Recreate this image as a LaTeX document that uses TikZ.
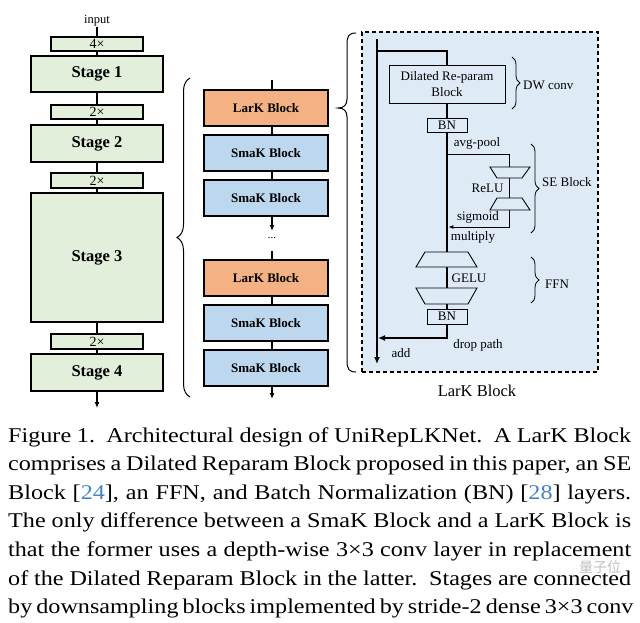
\documentclass[tikz,border=0pt]{standalone}
\usepackage{fontspec}
\setmainfont{Liberation Serif}
\newfontfamily\capfont{Liberation Serif}[FakeStretch=1.15]
\newfontfamily\cjkfont{Noto Sans CJK SC}
\usetikzlibrary{decorations.pathreplacing,arrows.meta}
\definecolor{stagegreen}{HTML}{E2EFDA}
\definecolor{larkorange}{HTML}{F4B183}
\definecolor{smakblue}{HTML}{BDD7EE}
\definecolor{lboxblue}{HTML}{DEEBF7}
\definecolor{citeblue}{RGB}{70,130,200}
\begin{document}
\begin{tikzpicture}[x=1pt,y=-1pt,
  lbl/.style={inner sep=0pt, font=\fontsize{13}{15}\selectfont},
  stagebox/.style={draw, fill=stagegreen, line width=1.3pt, minimum width=132pt, inner sep=0pt, font=\fontsize{16.5}{18}\selectfont\bfseries},
  dsbox/.style={draw, fill=stagegreen, line width=1.3pt, minimum width=92pt, minimum height=14pt, inner sep=0pt, font=\fontsize{14}{14}\selectfont},
  blk/.style={draw, line width=1.2pt, minimum width=124pt, minimum height=36pt, inner sep=0pt, font=\fontsize{13}{15}\selectfont\bfseries},
  larkbox/.style={blk, fill=larkorange},
  smakbox/.style={blk, fill=smakblue},
  bnbox/.style={draw, line width=0.9pt, fill=lboxblue, minimum width=40pt, minimum height=14pt, inner sep=0pt, font=\fontsize{13}{13}\selectfont},
  conn/.style={line width=1.3pt},
  arr/.style={conn, -{Latex[length=6pt,width=5pt]}},
  mainline/.style={line width=2.4pt},
  resline/.style={line width=2pt},
  thinline/.style={line width=0.9pt},
  trap/.style={draw, line width=0.9pt, fill=lboxblue},
  bracket/.style={decorate, decoration={brace, amplitude=8pt}, line width=0.8pt},
  capline/.style={anchor=base west, inner sep=0pt, font=\capfont\fontsize{21}{25}\selectfont},
]
\useasboundingbox (0,0) rectangle (640,622);
\fill[white] (0,0) rectangle (640,622);

% ---------------- left column: stages ----------------
\node[lbl, font=\fontsize{12.5}{14}\selectfont] (input) at (97,21) {input};
\node[dsbox] (d1) at (97,44) {4×};
\node[stagebox, minimum height=36pt] (s1) at (97,74) {Stage 1};
\node[dsbox] (d2) at (97,112) {2×};
\node[stagebox, minimum height=37pt] (s2) at (97,143.5) {Stage 2};
\node[dsbox, minimum height=15pt] (d3) at (97,180.5) {2×};
\node[stagebox, minimum height=129pt] (s3) at (97,257.5) {Stage 3};
\node[dsbox, minimum height=15pt] (d4) at (97,341.5) {2×};
\node[stagebox, minimum height=37pt] (s4) at (97,372.5) {Stage 4};
\coordinate (sout) at (97,408);
\draw[conn] (input) -- (d1);
\draw[conn] (d1) -- (s1);
\draw[conn] (s1) -- (d2);
\draw[conn] (d2) -- (s2);
\draw[conn] (s2) -- (d3);
\draw[conn] (d3) -- (s3);
\draw[conn] (s3) -- (d4);
\draw[conn] (d4) -- (s4);
\draw[arr] (s4) -- (sout);

% left brace
\draw[bracket, decoration={brace, amplitude=13pt}, line width=1pt] (190,397) -- (190,78);

% ---------------- middle column: blocks ----------------
\coordinate (mx) at (272,0);
\coordinate (mtop) at (272,80);
\node[larkbox] (l1) at (266,108) {LarK Block};
\node[smakbox] (k1) at (266,153) {SmaK Block};
\node[smakbox] (k2) at (266,198) {SmaK Block};
\coordinate (mgap1) at (272,231);
\node[lbl, font=\fontsize{11}{11}\selectfont] (dots) at (272,238) {...};
\coordinate (mgap2) at (272,251);
\node[larkbox] (l2) at (266,278) {LarK Block};
\node[smakbox] (k3) at (266,323) {SmaK Block};
\node[smakbox] (k4) at (266,368) {SmaK Block};
\coordinate (mout) at (272,399);
\draw[conn] (mtop) -- (l1.north -| mx);
\draw[conn] (l1.south -| mx) -- (k1.north -| mx);
\draw[conn] (k1.south -| mx) -- (k2.north -| mx);
\draw[arr] (k2.south -| mx) -- (mgap1);
\draw[conn] (mgap2) -- (l2.north -| mx);
\draw[conn] (l2.south -| mx) -- (k3.north -| mx);
\draw[conn] (k3.south -| mx) -- (k4.north -| mx);
\draw[arr] (k4.south -| mx) -- (mout);

% big asymmetric brace
\draw[line width=1pt] (356,33) .. controls (349,33) and (347,36) .. (347,44)
  -- (347,99) .. controls (347,105) and (344,108) .. (338,108)
  .. controls (344,108) and (347,111) .. (347,117)
  -- (347,361) .. controls (347,369) and (349,372) .. (356,372);

% ---------------- right: LarK Block detail ----------------
\node[draw, dashed, dash pattern=on 4pt off 3pt, line width=1.2pt, fill=lboxblue,
      minimum width=236pt, minimum height=340pt, inner sep=0pt] (lkbox) at (480,202) {};

\node[draw, line width=0.9pt, fill=lboxblue, minimum width=116pt, minimum height=38pt,
      inner sep=0pt, align=center, font=\fontsize{13}{16}\selectfont] (dil) at (447,84) {Dilated Re-param\\Block};
\node[bnbox] (bn1) at (447,125) {BN};
\node[bnbox, minimum height=15pt] (bn2) at (447,316.5) {BN};

% residual path
\coordinate (rtop) at (377,39);
\coordinate (rbr) at (377,51);
\coordinate (radd) at (378,338);
\coordinate (rend) at (377,364);
\draw[resline, -{Latex[length=7pt,width=6pt]}] (rtop) -- (rend);
\draw[resline] (rbr) -| (dil.north);

% trapezoid anchor points
\coordinate (t1top) at (509,167);
\coordinate (t1bot) at (509,178);
\coordinate (t2top) at (509,198);
\coordinate (t2bot) at (509,210);
\coordinate (t3top) at (447,252);
\coordinate (t3bot) at (447,267);
\coordinate (t4top) at (447,288);
\coordinate (t4bot) at (447,304);
\coordinate (sesplit) at (447,154);
\coordinate (mult) at (448.4,227);

% main path
\draw[mainline] (dil.south) -- (bn1.north);
\draw[mainline] (bn1.south) -- (t3top);
\draw[mainline] (t3bot) -- (t4top);
\draw[mainline] (t4bot) -- (bn2.north);
\draw[mainline, -{Latex[length=7pt,width=6pt]}] (bn2.south) |- (radd);

% SE block
\draw[thinline] (sesplit) -| (t1top);
\draw[thinline] (t1bot) -- (t2top);
\draw[thinline, -{Latex[length=5pt,width=4pt]}] (t2bot) |- (mult);
\draw[trap] (490,167) -- (530,167) -- (522,178) -- (497,178) -- cycle;
\draw[trap] (497,198) -- (522,198) -- (530,210) -- (490,210) -- cycle;

% FFN
\draw[trap] (425,252) -- (468,252) -- (477,267) -- (416,267) -- cycle;
\draw[trap] (416,288) -- (477,288) -- (468,304) -- (425,304) -- cycle;

% labels
\node[lbl] (lavg) at (477,143) {avg-pool};
\node[lbl] (lrelu) at (487.5,188) {ReLU};
\node[lbl] (lsig) at (478,217) {sigmoid};
\node[lbl] (lmul) at (473,237) {multiply};
\node[lbl] (lgelu) at (469,278) {GELU};
\node[lbl] (ldrop) at (478,345) {drop path};
\node[lbl] (ladd) at (401,353) {add};

% inner braces
\draw[bracket] (512,57) -- (512,109);
\node[lbl, anchor=west] (ldw) at (523,85) {DW conv};
\draw[bracket] (531,144) -- (531,233);
\node[lbl, anchor=west] (lse) at (542,182) {SE Block};
\draw[bracket] (531,257) -- (531,303);
\node[lbl, anchor=west] (lffn) at (545,284) {FFN};

\node[lbl, font=\fontsize{16.5}{18}\selectfont] (lktitle) at (477,391) {LarK Block};

% ---------------- caption ----------------
\node[capline] (c1) at (8,442) {\makebox[623pt][s]{Figure 1.\ \ Architectural design of UniRepLKNet.\ \ A LarK Block}};
\node[capline] (c2) at (8,470.5) {\makebox[623pt][s]{comprises a Dilated Reparam Block proposed in this paper, an SE}};
\node[capline] (c3) at (8,499) {\makebox[623pt][s]{Block [\textcolor{citeblue}{24}], an FFN, and Batch Normalization (BN) [\textcolor{citeblue}{28}] layers.}};
\node[capline] (c4) at (8,527.7) {\makebox[623pt][s]{The only difference between a SmaK Block and a LarK Block is}};
\node[capline] (c5) at (8,556.4) {\makebox[623pt][s]{that the former uses a depth-wise 3×3 conv layer in replacement}};
\node[capline] (c6) at (8,585) {\makebox[623pt][s]{of the Dilated Reparam Block in the latter.\ \ Stages are connected}};
\node[capline] (c7) at (8,613.7) {\makebox[623pt][s]{by downsampling blocks implemented by stride-2 dense 3×3 conv}};

% watermark
\node[inner sep=0pt, text=gray!70, opacity=0.7, font=\cjkfont\fontsize{14}{14}\selectfont] (wm) at (600,567) {量子位};
\end{tikzpicture}
\end{document}
